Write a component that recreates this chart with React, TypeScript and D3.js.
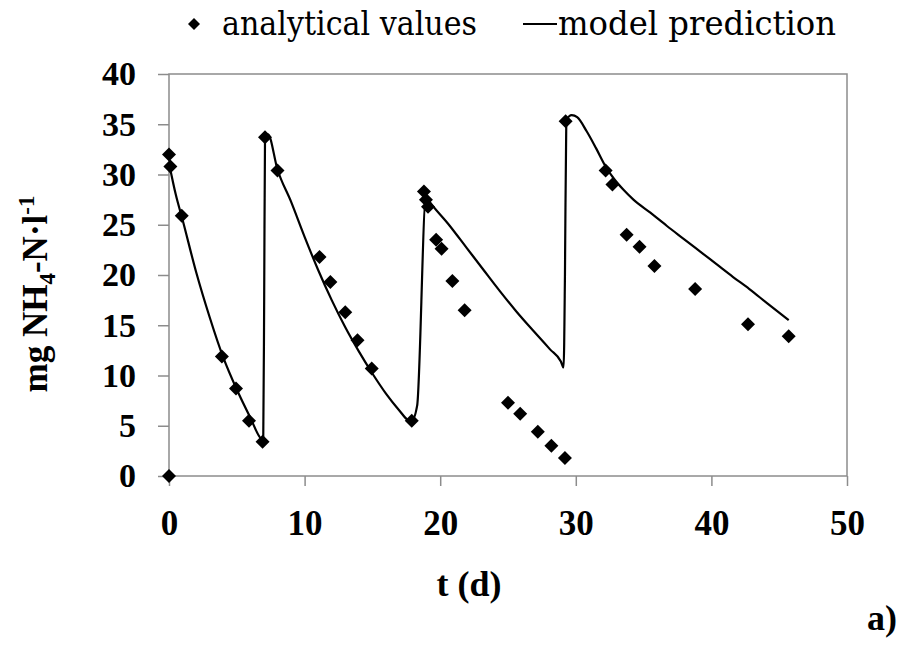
import React, { useEffect, useRef } from 'react';
import * as d3 from 'd3';

// analytical values (t in days, mg NH4-N/l)
const measT = [0, 0.1, 0.94, 3.9, 4.94, 5.9, 6.9, 0, 7.08, 8.0, 11.1, 11.9, 13.0, 13.9, 14.95, 17.9,
    18.8, 18.95, 19.1, 19.7, 20.1, 20.9, 21.8, 25.0, 25.9, 27.2, 28.2, 29.2,
    29.25, 32.2, 32.7, 33.75, 34.7, 35.8, 38.8, 42.7, 45.7];
const measV = [32.0, 30.8, 25.9, 11.9, 8.7, 5.5, 3.4, 0, 33.7, 30.4, 21.8, 19.3, 16.3, 13.5, 10.7, 5.5,
    28.3, 27.5, 26.8, 23.5, 22.6, 19.4, 16.5, 7.3, 6.2, 4.4, 3.0, 1.8,
    35.3, 30.4, 29.0, 24.0, 22.8, 20.9, 18.6, 15.1, 13.9];

// model prediction
const modelT = [0.05, 0.5, 1, 2, 3, 4, 5, 6, 6.8, 6.95, 7.02, 7.08, 7.3, 8, 9, 10, 11, 12, 13, 14, 15, 16, 17,
    17.6, 17.9, 18.3, 18.95, 19.05, 20.7, 21.95, 23.2, 24.4, 25.6, 26.9, 28.1, 28.9, 29.1, 29.2, 29.3,
    29.7, 30.1, 30.8, 31.5, 32.2, 32.8, 33.5, 34.25, 35.5, 36.7, 38, 39.2, 40.4, 41.6, 42.8, 44.1, 45.7];
const modelV = [30.8, 28.0, 25.5, 20.3, 15.8, 11.8, 8.6, 5.8, 3.7, 3.6, 18, 33.5, 34.0, 30.5, 27.3, 23.8, 20.5, 17.5, 14.8, 12.4, 10.2, 8.2, 6.5,
    5.6, 5.5, 7.0, 27.8, 27.6, 24.9, 22.7, 20.5, 18.4, 16.4, 14.4, 12.6, 11.4, 10.8, 20, 35.4,
    35.9, 35.7, 34.3, 32.6, 30.8, 29.6, 28.5, 27.5, 26.2, 24.9, 23.55, 22.3, 21.05, 19.8, 18.6, 17.2, 15.5];

const xTicks = [0, 10, 20, 30, 40, 50];
const yTicks = [0, 5, 10, 15, 20, 25, 30, 35, 40];

export default function App() {
    const svgRef = useRef<SVGSVGElement>(null);

    useEffect(() => {
        if (!svgRef.current) return;
        const width = 906;
        const height = 646;
        const left = 169, right = 847, top = 74, bottom = 476;

        const svg = d3.select(svgRef.current)
            .attr('width', width)
            .attr('height', height);
        svg.selectAll('*').remove();

        const x = d3.scaleLinear().domain([0, 50]).range([left, right]);
        const y = d3.scaleLinear().domain([0, 40]).range([bottom, top]);
        const axisColor = '#8c8c8c';
        const font = '"Liberation Serif", serif';
        const plainFont = '"DejaVu Serif", "Liberation Serif", serif';

        // plot frame
        svg.append('rect')
            .attr('x', left).attr('y', top)
            .attr('width', right - left).attr('height', bottom - top)
            .attr('fill', 'none').attr('stroke', axisColor).attr('stroke-width', 1.5);

        // x axis
        const xAxis = svg.append('g')
            .attr('transform', `translate(0,${bottom})`)
            .call(d3.axisBottom(x).tickValues(xTicks).tickSize(10).tickPadding(24).tickFormat(d3.format('d')));
        xAxis.select('.domain').remove();
        xAxis.selectAll('line').attr('stroke', axisColor).attr('stroke-width', 1.5);
        xAxis.selectAll('text')
            .attr('font-family', font).attr('font-size', 35).attr('font-weight', 'bold').attr('fill', '#000');

        // y axis
        const yAxis = svg.append('g')
            .attr('transform', `translate(${left},0)`)
            .call(d3.axisLeft(y).tickValues(yTicks).tickSize(11).tickPadding(22).tickFormat(d3.format('d')));
        yAxis.select('.domain').remove();
        yAxis.selectAll('line').attr('stroke', axisColor).attr('stroke-width', 1.5);
        yAxis.selectAll('text')
            .attr('font-family', font).attr('font-size', 34).attr('font-weight', 'bold').attr('fill', '#000');

        // model line
        const pts = modelT.map((t, i) => [t, modelV[i]] as [number, number]);
        const line = d3.line<[number, number]>()
            .x(d => x(d[0]))
            .y(d => y(d[1]))
            .curve(d3.curveMonotoneX);
        svg.append('path')
            .attr('d', line(pts))
            .attr('fill', 'none')
            .attr('stroke', '#000')
            .attr('stroke-width', 2.2);

        // measured points
        const diamond = 'M0,-7L7,0L0,7L-7,0Z';
        svg.selectAll('path.pt')
            .data(measT.map((t, i) => [t, measV[i]]))
            .enter()
            .append('path')
            .attr('class', 'pt')
            .attr('d', diamond)
            .attr('transform', d => `translate(${x(d[0])},${y(d[1])})`)
            .attr('fill', '#000');

        // legend
        const lg = svg.append('g');
        lg.append('path').attr('d', 'M0,-6L6,0L0,6L-6,0Z').attr('transform', 'translate(194,24)').attr('fill', '#000');
        lg.append('text').attr('x', 222).attr('y', 35)
            .style('font-family', plainFont).style('font-size', '34px')
            .attr('textLength', 255).attr('lengthAdjust', 'spacingAndGlyphs').text('analytical values');
        lg.append('line').attr('x1', 523).attr('x2', 557).attr('y1', 24).attr('y2', 24)
            .attr('stroke', '#000').attr('stroke-width', 2.2);
        lg.append('text').attr('x', 558).attr('y', 35)
            .style('font-family', plainFont).style('font-size', '34px')
            .attr('textLength', 278).attr('lengthAdjust', 'spacingAndGlyphs').text('model prediction');

        // x title
        svg.append('text').attr('x', 469).attr('y', 596).attr('text-anchor', 'middle')
            .attr('font-family', font).attr('font-size', 36).attr('font-weight', 'bold').text('t (d)');

        // y title
        const yt = svg.append('text')
            .attr('transform', 'translate(47,294) rotate(-90)')
            .attr('text-anchor', 'middle')
            .attr('font-family', font).attr('font-size', 35).attr('font-weight', 'bold');
        yt.append('tspan').text('mg NH');
        yt.append('tspan').attr('font-size', 23).attr('dy', 8).text('4');
        yt.append('tspan').attr('dy', -8).text('-N·l');
        yt.append('tspan').attr('font-size', 23).attr('dy', -13).text('-1');

        // panel label
        svg.append('text').attr('x', 867).attr('y', 630)
            .attr('font-family', font).attr('font-size', 36).attr('font-weight', 'bold').text('a)');
    }, []);

    return (
        <svg ref={svgRef} style={{ position: 'absolute', left: 0, top: 0, background: '#fff' }}></svg>
    );
}
